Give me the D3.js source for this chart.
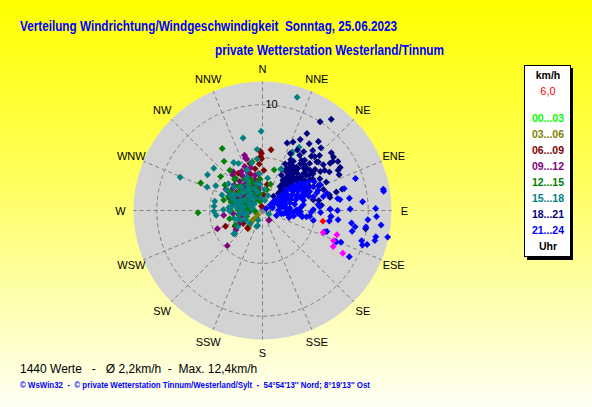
<!DOCTYPE html>
<html>
<head>
<meta charset="utf-8">
<script src="https://cdn.jsdelivr.net/npm/d3@7"></script>
<style>
  body { margin: 0; overflow: hidden; }
  text { font-family: "Liberation Sans", Arial, sans-serif; white-space: pre; }
</style>
</head>
<body>
<div id="container"></div>
<script>

      //Width and height
      var w = 592;
      var h = 407;

      //Compass labels, rings, legend
      var dirLabels = ["N","NNE","NE","ENE","E","ESE","SE","SSE","S","SSW","SW","WSW","W","WNW","NW","NNW"];
      var ringTicks = [5, 10];
      var hourLabels = ["00...03","03...06","06...09","09...12","12...15","15...18","18...21","21...24"];
      var hourColors = ["#00ff00","#808000","#800000","#800080","#008000","#008080","#000080","#0000ff"];

      //Values per 3 hours: [direction in degrees, speed in km/h]
      var h00 = [[300,2.0],[315,2.5],[330,2.8],[290,1.2]];
      var h03 = [[221,2.0],[224,1.5],[224,1.0],[229,0.6],[222,1.8],[226,1.3],[218,2.2]];
      var h06 = [[8,5.8],[358,5.6],[358,5.1],[359,5.4],[354,3.5],[327,4.2],[348,2.0],[247,3.8],[236,2.2],
                 [345,4.6],[355,3.0],[340,2.5],[5,1.5],[350,4.0],[320,3.0],[300,2.0],[359,4.9],[10,2.5],
                 [345,1.0],[330,2.2],[220,2.2],[240,3.0],[348,0.4],[335,3.3],[352,2.6],[356,4.4],[342,3.6],
                 [2,3.8],[336,1.5],[312,2.6]];
      var h09 = [[342,5.5],[343,5.1],[342,5.2],[323,4.6],[322,3.5],[307,3.5],[312,2.4],[295,2.7],[299,1.7],
                 [263,3.7],[248,4.6],[264,2.8],[234,3.1],[144,1.1],[147,1.1],[334,2.3],[339,3.8],[346,3.0],
                 [339,1.6],[271,1.8],[247,2.3],[338,4.5],[299,3.7],[225,4.7],[310,2.2],[325,2.6],[295,1.9],
                 [340,3.2],[285,2.8],[305,3.0],[318,1.4],[275,2.0],[255,2.0],[350,2.2],[330,3.8],[300,4.0],
                 [265,1.2],[240,2.6],[345,4.2],[335,1.8],[320,4.4],[315,2.9],[300,2.4],[290,3.3],[328,3.0],
                 [345,2.6],[282,2.4],[312,3.6],[332,4.2],[305,1.4],[288,1.6],[322,2.1],[348,3.4]];
      var h12 = [[327,7.0],[294,6.4],[268,6.1],[322,5.9],[321,4.9],[309,5.1],[304,4.3],[318,3.9],[292,3.5],
                 [307,2.7],[327,2.5],[348,4.7],[16,4.0],[17,2.6],[12,2.0],[344,0.9],[341,1.7],[297,1.9],
                 [270,2.3],[256,3.2],[242,2.9],[249,1.6],[270,1.2],[264,0.7],[319,3.0],[285,3.8],[340,3.1],
                 [305,1.8],[325,2.0],[290,2.5],[340,2.8],[315,3.2],[280,1.5],[300,3.5],[355,3.0],[260,2.3],
                 [330,1.2],[270,3.0],[320,4.0],[310,2.8],[295,2.1],[330,3.4],[285,3.1],[345,2.1],[318,2.4],
                 [302,2.9],[335,2.3],[312,1.6],[292,1.4],[352,1.6]];
      var h15 = [[345,7.1],[359,7.5],[355,5.8],[354,4.9],[329,5.3],[311,6.1],[303,6.2],[292,8.4],[293,5.7],
                 [298,5.0],[291,4.1],[281,4.6],[275,4.6],[269,4.6],[264,4.4],[269,3.1],[231,3.5],[237,2.8],
                 [224,1.7],[198,1.5],[204,1.0],[120,0.7],[13,1.0],[9,3.1],[326,1.4],[333,3.2],[333,5.0],
                 [347,4.6],[300,3.9],[292,3.1],[295,2.3],[275,2.4],[256,1.7],[281,1.0],[322,2.4],[348,2.6],
                 [271,3.7],[281,1.8],[255,2.8],[339,4.1],[355,3.5],[17,11.2],[230,3.4],[200,1.6],[25,4.3],
                 [27,6.0],[30,6.9],[27,6.2],[24,4.3],[300,2.0],[315,2.5],[330,2.8],[285,2.2],[260,1.5],
                 [345,1.8],[320,1.5],[300,3.0],[275,3.2],[250,2.5],[240,1.8],[290,1.2],[335,3.5],[310,3.5],
                 [355,2.5],[5,2.0],[20,1.5],[350,1.2],[305,2.6],[318,3.0],[290,2.8],[280,2.0],[325,1.9],
                 [340,2.2],[310,1.0],[270,1.9],[300,1.5],[286,2.6],[296,3.4],[315,1.9],[328,2.4],[262,2.2],
                 [246,2.2],[308,4.1],[278,2.9]];
      var h18 = [[33,10.0],[37,10.8],[30,8.4],[20,6.8],[24,7.1],[28,7.6],[35,7.7],[39,8.4],[43,8.1],[40,7.4],
                 [46,7.5],[50,8.5],[53,8.4],[57,8.5],[55,7.8],[61,8.4],[65,8.0],[60,7.3],[53,7.2],[48,6.9],
                 [42,6.9],[35,6.8],[30,6.6],[26,6.0],[26,4.9],[33,5.1],[39,5.7],[46,5.8],[54,5.9],[61,6.2],
                 [66,6.6],[66,5.8],[57,5.3],[48,5.0],[40,4.8],[35,4.3],[34,3.5],[45,3.9],[51,4.3],[36,2.8],
                 [48,2.9],[43,2.2],[38,1.7],[42,4.3],[40,5.2],[40,6.2],[45,6.3],[71,6.1],[77,6.5],[76,7.2],
                 [69,4.1],[59,3.8],[100,9.9],[78,4.9],[85,5.6],[30,4.6],[36,4.9],[39,4.1],[42,3.4],[58,4.2],
                 [51,5.3],[28,3.8],[43,2.4],[75,7.8],[55,8.1],[62,8.1],[80,5.4],[79,6.5],[67,4.6],
                 [32,5.5],[38,6.0],[44,5.6],[50,5.9],[47,4.5],[41,3.8],[37,3.2],[45,3.3],[52,4.7],[56,6.6],
                 [49,7.0],[44,7.1],[29,5.5],[34,6.3],[58,5.6],[63,5.0],[54,3.6],[31,4.3],[48,5.4],[40,4.4],
                 [36,3.9],[39,3.0],[43,4.8],[46,4.1],[50,3.7],[33,4.7],[38,5.2],[44,3.6],[49,4.9],[53,5.5],
                 [35,3.4],[41,2.7],[47,3.5],[55,4.9],[37,4.5],[42,5.9],[30,5.1],[46,2.6],[52,6.3],[57,7.0]];
      var h21 = [[71,9.3],[81,11.6],[89,10.7],[93,10.8],[97,11.3],[102,12.1],[105,11.0],[108,10.4],[118,9.3],
                 [113,7.5],[85,9.5],[80,11.6],[103,11.0],[95,10.0],[99,9.9],[100,8.9],[103,8.7],[89,8.3],
                 [75,8.0],[82,8.3],[82,7.4],[89,6.4],[90,7.1],[95,6.5],[109,6.2],[99,6.4],[112,8.0],[113,7.6],
                 [98,8.5],[107,9.8],[109,10.0],[92,5.5],[97,4.5],[99,3.8],[89,3.2],[82,3.9],[89,2.5],[98,2.0],
                 [100,3.0],[51,1.3],[54,1.7],[52,2.1],[51,2.5],[50,3.0],[51,3.3],[52,3.7],[53,4.0],[54,4.4],
                 [63,4.3],[62,4.7],[68,4.8],[75,5.0],[72,5.4],[58,5.1],[65,5.3],[69,2.8],[68,3.5],[76,2.2],
                 [78,1.7],[76,4.0],[77,5.9],[75,6.3],[95,3.4],[98,2.5],[98,4.2],[89,4.8],[84,5.3],[54,0.9],
                 [63,0.4],[60,1.2],[70,1.6],[80,1.9],[90,1.5],[100,1.8],[110,1.4],[85,2.6],[65,2.4],[95,2.2],
                 [75,1.0],[55,1.0],[105,2.6],[97,2.3],[93,2.9],[97,3.7],[92,4.6],[101,4.9],[86,5.4],[89,6.4],
                 [95,6.5],[97,7.2],[108,6.4],[73,1.7],[81,7.2],[58,2.8],[62,3.2],[55,3.6],[66,3.6],[59,4.1],
                 [70,4.3],[57,2.3],[64,1.9],[67,2.9],[72,3.3],[61,5.6],[66,6.0],[70,5.6],[56,1.5],[60,2.0],
                 [64,2.6],[58,3.4],[61,3.9],[67,4.2],[71,3.8],[74,2.7],[79,3.1],[83,2.2],[86,3.6],[92,3.6],
                 [57,4.6],[60,2.4],[69,2.2],[73,4.6]];
      var marked = [[110,6.1],[108,7.4],[113,7.3],[117,7.5],[118,8.6]];
      var current = [[100,5.8]];

      var seriesList = [h00, h03, h06, h09, h12, h15, h18, h21];

      var cx = 262.5, cy = 210.5;

      //Radial and angular scales
      var rScale = d3.scaleLinear().domain([0, 12.2]).range([0, 129]);
      var aScale = d3.scaleLinear().domain([0, 360]).range([0, 2 * Math.PI]);

      //Create SVG
      var svg = d3.select("#container")
            .append("svg")
            .attr("width", w)
            .attr("height", h);

      var grad = svg.append("defs").append("linearGradient")
            .attr("id", "bg").attr("x1", 0).attr("y1", 0).attr("x2", 0).attr("y2", 1);
      grad.append("stop").attr("offset", "0%").attr("stop-color", "#ffff00");
      grad.append("stop").attr("offset", "45%").attr("stop-color", "#ffff60");
      grad.append("stop").attr("offset", "100%").attr("stop-color", "#fffff6");

      svg.append("rect").attr("width", w).attr("height", h).attr("fill", "url(#bg)");

      //Titles
      svg.append("text").attr("x", 20).attr("y", 31)
            .attr("fill", "#0000ff").attr("font-weight", "bold").attr("font-size", 14)
            .attr("textLength", 377).attr("lengthAdjust", "spacingAndGlyphs")
            .text("Verteilung Windrichtung/Windgeschwindigkeit  Sonntag, 25.06.2023");
      svg.append("text").attr("x", 215).attr("y", 55)
            .attr("fill", "#0000ff").attr("font-weight", "bold").attr("font-size", 14)
            .attr("textLength", 229).attr("lengthAdjust", "spacingAndGlyphs")
            .text("private Wetterstation Westerland/Tinnum");

      var g = svg.append("g").attr("transform", "translate(" + cx + "," + cy + ")");

      //Disc
      g.append("circle").attr("r", rScale(12.2)).attr("fill", "#d3d3d3");

      //Rings
      g.selectAll(".ring")
        .data(ringTicks)
        .enter()
        .append("circle")
        .attr("r", function(d) { return rScale(d); })
        .attr("fill", "none")
        .attr("stroke", "#808080")
        .attr("stroke-dasharray", "4,3");

      //Spokes
      g.selectAll(".spoke")
        .data(dirLabels)
        .enter()
        .append("line")
        .attr("x2", function(d, i) { return d3.pointRadial(aScale(i * 22.5), rScale(12.2))[0]; })
        .attr("y2", function(d, i) { return d3.pointRadial(aScale(i * 22.5), rScale(12.2))[1]; })
        .attr("stroke", "#808080")
        .attr("stroke-dasharray", "4,3");

      //Direction labels
      g.selectAll(".dir")
        .data(dirLabels)
        .enter()
        .append("text")
        .attr("x", function(d, i) { return d3.pointRadial(aScale(i * 22.5), 142)[0]; })
        .attr("y", function(d, i) { return d3.pointRadial(aScale(i * 22.5), 142)[1] + 4; })
        .attr("text-anchor", "middle")
        .attr("font-size", 11)
        .text(function(d) { return d; });

      g.append("text").attr("x", 3).attr("y", -rScale(10) + 3).attr("font-size", 11).text("10");
      g.append("text").attr("x", 3).attr("y", 4).attr("font-size", 10).text("0");

      //Points
      var diamond = d3.symbol().type(d3.symbolSquare).size(24);
      function drawPoints(data, color) {
        g.append("g").selectAll("path")
          .data(data)
          .enter()
          .append("path")
          .attr("d", diamond)
          .attr("fill", color)
          .attr("transform", function(d) {
            var p = d3.pointRadial(aScale(d[0]), rScale(d[1]));
            return "translate(" + p[0] + "," + p[1] + ") rotate(45)";
          });
      }
      seriesList.forEach(function(s, i) { drawPoints(s, hourColors[i]); });
      drawPoints(marked, "#ff00ff");
      drawPoints(current, "#ff0000");

      //Legend
      var lg = svg.append("g").attr("transform", "translate(524,65)");
      lg.append("rect").attr("x", 3).attr("y", 3).attr("width", 46).attr("height", 192).attr("fill", "#000");
      lg.append("rect").attr("x", 0.5).attr("y", 0.5).attr("width", 46).attr("height", 191)
        .attr("fill", "#fff").attr("stroke", "#000");
      lg.append("text").attr("x", 24).attr("y", 14).attr("text-anchor", "middle")
        .attr("font-weight", "bold").attr("font-size", 10.5).text("km/h");
      lg.append("text").attr("x", 24).attr("y", 30).attr("text-anchor", "middle")
        .attr("fill", "#ff0000").attr("font-size", 11).text("6,0");
      lg.selectAll(".hr")
        .data(hourLabels)
        .enter()
        .append("text")
        .attr("x", 24)
        .attr("y", function(d, i) { return 57.3 + i * 15.9; })
        .attr("text-anchor", "middle")
        .attr("font-weight", "bold")
        .attr("font-size", 10.5)
        .attr("fill", function(d, i) { return hourColors[i]; })
        .text(function(d) { return d; });
      lg.append("text").attr("x", 24).attr("y", 184.5).attr("text-anchor", "middle")
        .attr("font-weight", "bold").attr("font-size", 10.5).text("Uhr");

      //Footer
      svg.append("text").attr("x", 20).attr("y", 373).attr("font-size", 12)
        .text("1440 Werte   -   \u00d8 2,2km/h  -  Max. 12,4km/h");
      svg.append("text").attr("x", 20).attr("y", 388).attr("font-size", 8.5)
        .attr("font-weight", "bold").attr("fill", "#0000ff")
        .attr("textLength", 350).attr("lengthAdjust", "spacingAndGlyphs")
        .text("\u00a9 WsWin32  -  \u00a9 private Wetterstation Tinnum/Westerland/Sylt  -  54\u00b054'13'' Nord; 8\u00b019'13'' Ost");

</script>
</body>
</html>
